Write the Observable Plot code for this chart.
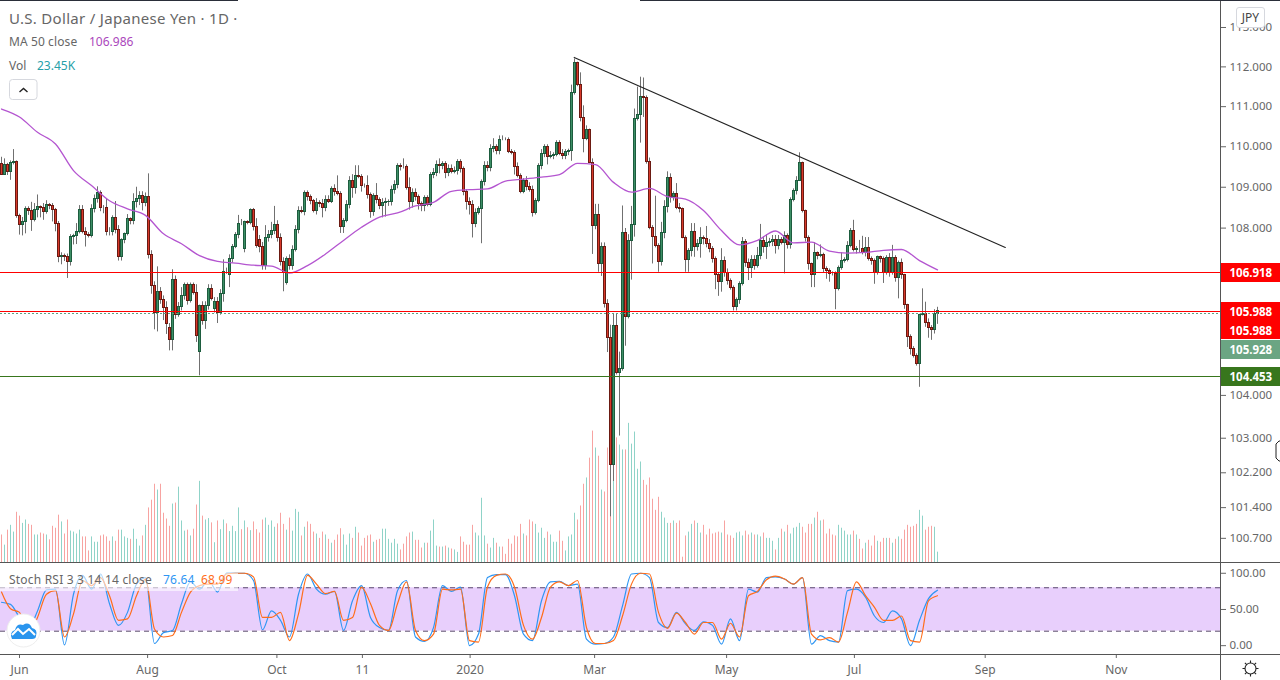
<!DOCTYPE html>
<html><head><meta charset="utf-8">
<script src="https://cdn.jsdelivr.net/npm/d3@7"></script>
<script src="https://cdn.jsdelivr.net/npm/@observablehq/plot@0.6"></script>
<style>
html,body{margin:0;padding:0;background:#fff;overflow:hidden}
#stage{position:relative;width:1280px;height:680px;overflow:hidden;font-family:"Noto Sans",sans-serif;color:#666}
.layer{position:absolute;left:0}
.layer svg{display:block}
.t{position:absolute;white-space:nowrap;line-height:16px;font-size:12px}
.line{position:absolute;background:#555}
</style></head><body>
<div id="stage"></div>
<script>
// ---------- data ----------
const firstOpen = 109.58;
const closes = [
109.31,109.54,109.37,109.60,109.63,108.29,108.08,108.16,108.47,108.41,
108.20,108.45,108.51,108.50,108.39,108.57,108.55,108.45,108.11,107.31,
107.32,107.29,107.18,107.79,107.80,107.91,108.45,107.91,107.84,107.81,
108.47,108.71,108.86,108.50,108.50,107.91,107.91,108.25,107.96,107.30,
107.72,107.86,108.23,108.18,108.64,108.70,108.79,108.62,108.76,107.35,
106.60,105.95,106.46,106.26,106.07,105.69,105.30,106.74,105.90,106.10,
106.36,106.62,106.24,106.62,106.43,105.40,106.12,105.76,106.12,106.53,
106.29,106.22,105.95,106.41,106.93,106.93,107.25,107.55,107.84,108.11,
108.11,108.15,108.13,108.45,108.03,107.56,107.55,107.08,107.76,107.84,
107.94,108.08,107.76,107.18,106.91,107.25,107.08,107.47,107.96,108.42,
108.40,108.86,108.76,108.67,108.42,108.62,108.60,108.50,108.69,108.65,
108.96,108.88,108.84,108.02,108.18,108.57,109.16,108.98,109.28,109.26,
109.03,109.03,108.81,108.39,108.79,108.69,108.55,108.62,108.63,108.64,
108.93,109.06,109.53,109.50,109.50,108.98,108.64,108.86,108.76,108.59,
108.55,108.74,108.57,109.31,109.36,109.55,109.53,109.58,109.36,109.45,
109.38,109.40,109.63,109.45,108.89,108.64,108.57,108.11,108.37,108.47,
109.13,109.53,109.48,109.95,110.00,109.90,110.17,110.17,110.17,109.88,
109.85,109.50,109.28,108.89,109.16,109.01,108.93,108.37,108.67,109.53,
109.83,110.00,109.75,109.78,109.80,110.10,109.83,109.78,109.88,109.89,
111.34,112.10,111.55,110.72,110.20,110.42,109.60,108.06,108.33,107.13,
107.54,106.17,105.36,102.39,105.64,104.53,104.62,107.89,105.86,107.69,
108.08,110.69,110.79,111.24,111.22,109.62,108.01,107.78,107.57,107.18,
107.89,108.52,109.23,108.76,108.84,108.50,108.47,107.76,107.23,107.45,
107.91,107.54,107.62,107.76,107.74,107.62,107.50,107.25,106.86,106.70,
107.20,106.91,106.72,106.55,106.10,106.26,106.65,107.67,107.15,107.03,
107.23,107.08,107.33,107.69,107.54,107.64,107.65,107.72,107.57,107.72,
107.64,107.81,107.59,108.69,108.91,109.16,109.60,108.42,107.76,107.13,
106.86,107.40,107.33,107.34,107.01,106.96,106.89,106.89,106.53,107.03,
107.20,107.23,107.57,107.94,107.47,107.50,107.50,107.40,107.52,107.25,
107.20,106.91,107.30,107.25,106.91,107.28,106.91,107.28,106.79,107.15,
106.86,106.14,105.38,105.10,104.93,104.74,105.90,105.93,105.71,105.60,
105.55,105.93,105.988];
// bars whose open differs from the previous close: [bar, open]
const openGaps = [[56,105.60],[66,105.02],[71,106.05],[76,106.86],[81,107.50],[86,107.72],[95,106.67]];
// wick lengths in pips (0.01 yen)
const wickUp = [
16,16,5,5,30,2,5,10,5,5, 22,15,30,3,10,10,3,5,3,5, 8,5,8,5,5,20,10,10,10,5, 10,10,15,5,5,20,10,5,40,10,
2,2,10,2,20,30,10,10,10,57, 10,10,60,10,10,15,10,25,10,10, 20,5,5,5,5,20,2,10,10,10, 10,10,10,10,30,10,10,5,5,20,
10,2,3,2,3,20,10,10,30,10, 20,45,10,10,10,5,10,10,10,10, 10,5,5,5,3,10,5,10,10,10, 5,10,40,5,5,10,10,15,25,25,
5,5,25,5,5,30,5,10,10,5, 10,10,5,5,20,5,25,10,10,5, 5,5,5,5,10,10,15,5,5,10, 10,10,5,5,5,5,10,10,10,5,
5,10,10,10,20,5,10,10,5,5, 5,5,10,5,5,10,10,10,5,5, 10,5,5,10,5,5,5,10,5,5, 20,10,2,30,30,10,2,10,25,25,
10,10,10,30,30,30,40,65,10,15, 45,25,70,50,48,5,10,5,100,5, 25,15,15,10,5,25,10,2,5,5, 20,20,10,25,5,30,10,5,5,5,
30,10,10,5,5,5,5,10,5,10, 10,10,20,40,10,20,10,10,10,10, 5,10,5,5,5,10,25,2,2,5, 2,25,2,25,5,5,5,5,5,5,
20,5,10,5,25,5,20,30,25,25, 5,5,2,2,5,5,10,30,5,5, 10,2,2,5,5,5,2,60,28,10, 5,10,10];
const wickDown = [
2,2,8,20,5,5,25,27,30,10, 28,5,20,25,20,5,10,30,20,15, 20,10,40,10,20,20,5,5,30,5, 5,10,10,10,15,10,10,10,10,10,
10,10,5,10,10,15,15,20,10,10, 20,40,45,10,30,25,25,25,10,5, 10,10,10,5,5,15,56,10,20,10, 5,10,25,5,20,5,30,10,5,10,
5,10,5,5,10,5,15,10,10,10, 10,10,10,10,45,5,10,10,5,10, 5,10,10,10,5,10,10,25,10,5, 5,10,5,15,15,5,10,25,15,5,
15,5,10,15,10,10,10,30,35,10, 10,10,10,10,5,5,20,15,10,15, 15,15,5,5,10,10,20,10,15,10, 5,5,10,10,10,20,25,35,10,5,
85,10,10,10,10,10,10,2,2,5, 5,20,5,5,5,10,5,10,5,5, 10,10,20,5,10,5,5,10,10,10, 25,5,5,10,35,5,2,70,10,20,
30,10,35,120,39,5,148,5,70,5, 95,30,5,70,49,5,5,65,5,25, 10,15,15,15,10,5,10,2,30,30, 15,25,10,35,15,10,10,10,35,35,
25,10,10,5,10,10,10,5,10,30, 25,10,5,10,15,30,10,10,20,10, 5,75,10,10,5,10,2,5,10,15, 30,30,10,5,10,20,20,5,50,5,
5,5,5,5,5,10,10,5,10,5, 10,27,5,10,25,5,10,5,10,50, 10,10,25,15,5,5,55,2,10,25, 25,10,25];
// volume, thousands
const volumes = [
59,38,69,79,65,106,98,83,90,81, 79,59,59,63,61,59,49,77,73,100, 86,61,90,67,65,61,69,55,55,26, 55,44,44,57,59,55,46,55,46,69,
69,55,52,50,71,50,36,57,79,115, 131,164,152,164,104,92,77,123,125,158, 88,67,69,57,71,121,170,98,90,93, 84,43,88,70,90,82,66,77,66,115,
70,88,74,68,86,70,63,90,94,79, 88,75,82,104,81,69,94,67,112,106, 57,75,86,81,65,61,52,65,59,50, 42,48,59,72,59,38,61,52,75,63,
36,52,57,59,44,48,50,71,71,50, 42,50,40,28,40,55,63,65,48,48, 32,42,42,67,90,36,34,34,36,32, 30,28,23,55,44,38,38,79,63,57,
135,57,40,32,52,42,34,34,19,50, 40,57,55,81,61,57,90,86,81,63, 73,52,65,59,44,44,67,46,26,55, 59,104,90,119,164,177,218,274,239,222,
152,148,239,302,253,260,245,235,235,290, 247,272,195,210,172,162,177,133,110,137, 106,94,83,83,88,83,88,13,57,65, 81,88,83,63,79,59,71,61,63,65,
63,88,59,57,52,63,65,57,67,59, 63,59,59,55,63,52,52,46,28,52, 71,65,79,61,73,75,83,75,63,81, 81,94,106,88,90,61,71,59,57,79,
73,67,59,59,67,59,50,30,42,48, 36,57,46,44,52,52,52,42,50,55, 50,69,79,75,77,81,110,98,69,75, 77,75,23.45];
// 50-day moving average, read every 6th bar
const maStep = 6;
const ma50 = [110.94,110.74,110.36,110.07,109.41,109.04,108.67,108.47,108.31,107.86,107.62,107.33,107.19,107.15,107.10,107.08,106.91,107.09,
107.37,107.70,108.02,108.27,108.37,108.54,108.63,108.90,108.94,108.96,109.15,109.20,109.25,109.31,109.59,109.56,109.12,108.88,
108.97,108.77,108.71,108.43,107.94,107.59,107.70,107.93,107.64,107.66,107.44,107.39,107.41,107.46,107.48,107.21,106.986];
// Stochastic RSI, read every 3rd bar
const stochStep = 3;
const stochK = [60,57,39,23,48,77,78,1,71,97,78,99,58,28,46,85,94,3,18,21,58,88,78,90,74,100,100,100,90,22,48,35,12,71,99,78,71,75,21,62,83,39,25,21,76,90,12,6,25,83,75,81,0,16,
94,98,98,69,16,7,62,88,89,83,85,9,2,3,12,55,99,100,94,32,25,46,30,21,33,28,2,37,7,78,74,94,95,92,85,94,2,14,7,5,76,78,67,41,32,48,37,0,35,65,76.64];
const stochD = [74,51,46,16,39,71,76,12,44,90,83,94,69,35,37,69,92,23,12,14,46,74,83,85,85,99,100,100,95,39,39,46,7,44,97,85,72,75,35,39,81,58,28,21,58,88,21,7,16,78,77,78,7,5,
81,97,99,81,28,9,39,81,88,83,90,25,3,3,7,41,85,100,99,46,24,45,32,16,32,32,9,31,12,69,75,91,96,92,85,94,16,8,11,5,46,88,69,53,35,35,41,7,5,62,68.99];
const priceTicks = [113,112,111,110,109,108,104,103,102.2,101.4,100.7];
const stochTicks = [0,50,100];
const timeTickBars = [6,48.7,91.8,120.3,156.2,197.7,241.7,284.3,327.9,371.6];
const timeTickLabels = ["Jun","Aug","Oct","11","2020","Mar","May","Jul","Sep","Nov"];
const trendBars = [190.9,334.6];
const trendPrices = [112.24,107.53];
const resistance = 106.918, midLevel = 105.988, support = 104.453, lastPrice = 105.928;

// ---------- derived tables ----------
const gaps = new Map(openGaps);
const candles = closes.map((c,i)=>{
  const o = i===0 ? firstOpen : (gaps.has(i) ? gaps.get(i) : closes[i-1]);
  return {i,o,c,h:Math.max(o,c)+wickUp[i]/100,l:Math.min(o,c)-wickDown[i]/100,v:volumes[i],up:c>o};
});
const maRows = ma50.map((v,k)=>({i:k*maStep,v}));
const kRows = stochK.map((v,k)=>({i:k*stochStep,v}));
const dRows = stochD.map((v,k)=>({i:k*stochStep,v}));

// ---------- shared horizontal scale: one bar every 3px ----------
const W=1280, axisRight=60;
const xOpt={type:"linear",domain:[-1/3,(1220-1)/3],range:[0,1220],axis:null};
const base={width:W,marginLeft:0,marginRight:axisRight,marginTop:0,marginBottom:0,style:{background:"transparent"}};
const stage=document.getElementById("stage");
function add(el,top){const d=document.createElement("div");d.className="layer";d.style.top=top+"px";d.appendChild(el);stage.appendChild(d);return d;}

// volume layer (behind price)
add(Plot.plot({...base,height:563,x:xOpt,y:{domain:[0,1165],range:[563,0],axis:null},
  marks:[Plot.ruleX(candles,{x:"i",y1:0,y2:"v",stroke:d=>d.up?"#8fd3c8":"#f7a3a1",strokeWidth:1})]}),0);

// price layer
function tag(price,text,fill,dy){
  return [
    Plot.ruleY([price],{x1:xOpt.domain[1],x2:xOpt.domain[1]+20,stroke:fill,strokeWidth:19,dy,shapeRendering:"crispEdges"}),
    Plot.text([price],{y:d=>d,text:()=>text,frameAnchor:"right",textAnchor:"start",dx:9,dy:dy+1,fill:"#fff",fontWeight:"bold",fontSize:11.5})
  ];
}
add(Plot.plot({...base,height:563,x:xOpt,
  y:{type:"log",domain:[100.13,113.69],range:[563,0],axis:null},
  marks:[
    Plot.axisY({anchor:"right",ticks:priceTicks,tickFormat:d3.format(".3f"),tickSize:5,tickPadding:4,fontSize:11.5,color:"#666",label:null}),
    Plot.ruleX(candles,{x:"i",y1:"l",y2:"h",stroke:"#707070",strokeWidth:1}),
    Plot.rect(candles,{x1:d=>d.i-1/6,x2:d=>d.i+1/2,y1:"o",y2:"c",
      fill:d=>d.up?"#3d8f66":"#d8392a",stroke:d=>d.up?"#1d5c3e":"#6b1a12",strokeWidth:1,inset:0,shapeRendering:"crispEdges"}),
    Plot.line(maRows,{x:"i",y:"v",stroke:"#b455d0",strokeWidth:1.3,curve:"monotone-x"}),
    Plot.line(trendBars.map((b,k)=>({b,p:trendPrices[k]})),{x:"b",y:"p",stroke:"#222",strokeWidth:1.1}),
    Plot.ruleY([lastPrice],{stroke:"#5f9e80",strokeWidth:1,strokeDasharray:"2,2",shapeRendering:"crispEdges"}),
    Plot.ruleY([resistance,midLevel],{stroke:"#ff0000",strokeWidth:1,shapeRendering:"crispEdges"}),
    Plot.ruleY([support],{stroke:"#38761d",strokeWidth:1,shapeRendering:"crispEdges"}),
    ...tag(resistance,"106.918","#ff0000",0),
    ...tag(midLevel,"105.988","#ff0000",0),
    ...tag(midLevel,"105.988","#ff0000",18.5),
    ...tag(lastPrice,"105.928","#6ba583",35.5),
    ...tag(support,"104.453","#38761d",0)
  ]}),0);

// stochastic layer with the time axis
add(Plot.plot({...base,height:117,marginBottom:26,x:xOpt,
  y:{domain:[-12.2,113.5],range:[91,0],axis:null},
  marks:[
    Plot.rect([0],{x1:xOpt.domain[0],x2:xOpt.domain[1],y1:20,y2:80,fill:"#e8cffc"}),
    Plot.ruleY([20,80],{stroke:"#5a4a6c",strokeWidth:1,strokeDasharray:"5,4"}),
    Plot.line(kRows,{x:"i",y:"v",stroke:"#2f96f3",strokeWidth:1.2,curve:"monotone-x"}),
    Plot.line(dRows,{x:"i",y:"v",stroke:"#ff6d1a",strokeWidth:1.2,curve:"monotone-x"}),
    Plot.axisY({anchor:"right",ticks:stochTicks,tickFormat:d3.format(".2f"),tickSize:5,tickPadding:4,fontSize:11.5,color:"#666",label:null}),
    Plot.axisX({anchor:"bottom",ticks:timeTickBars,tickFormat:d=>timeTickLabels[timeTickBars.indexOf(d)],tickSize:4,tickPadding:7,fontSize:12,color:"#666",label:null})
  ]}),563);

// ---------- frame lines ----------
function line(l,t,w,h,c){const e=document.createElement("div");e.className="line";e.style.cssText=`left:${l}px;top:${t}px;width:${w}px;height:${h}px;background:${c||"#555"}`;stage.appendChild(e);}
line(1220,0,1,680);line(0,562,1280,1);line(0,654,1280,1);
line(0,0,238,1,"#2a2e39");line(640,0,640,1,"#2a2e39");

// ---------- legends ----------
function txt(x,y,s,col,size,extra){const e=document.createElement("div");e.className="t";e.textContent=s;e.style.cssText=`left:${x}px;top:${y-7}px;color:${col||"#666"};font-size:${size||12}px;${extra||""}`;stage.appendChild(e);}
const wash=document.createElement("div");wash.style.cssText="position:absolute;left:0;top:573px;width:238px;height:18px;background:rgba(255,255,255,.6)";stage.appendChild(wash);
txt(9,17,"U.S. Dollar / Japanese Yen · 1D ·","#666",15,"letter-spacing:.3px");
txt(9,41,"MA 50 close","#666",12,"letter-spacing:.1px");txt(89,41,"106.986","#ab47bc",12);
txt(9,65,"Vol","#666",12);txt(37,65,"23.45K","#26a0a8",12);
txt(9,579,"Stoch RSI 3 3 14 14 close","#666",12,"letter-spacing:.2px");txt(163,579,"76.64","#2f96f3",12,"letter-spacing:.2px");txt(201,579,"68.99","#ff6d1a",12,"letter-spacing:.2px");

// ---------- chrome icons ----------
const deco=document.createElement("div");
deco.innerHTML=`
<div style="position:absolute;left:1236px;top:7px;width:27px;height:19px;border:1px solid #d6d8de;border-radius:3px;background:#fff;font-size:12px;color:#444;text-align:center;line-height:19px">JPY</div>
<svg style="position:absolute;left:9px;top:79px" width="29" height="22"><rect x=".5" y=".5" width="27.5" height="20" rx="3" fill="#fff" stroke="#d6d8de"/><path d="M10.5 13 L14.5 9.5 L18.5 13" fill="none" stroke="#222" stroke-width="1.4"/></svg>
<svg style="position:absolute;left:5px;top:612px" width="37" height="37"><circle cx="18.5" cy="18.5" r="16.5" fill="#fff" stroke="#eee"/><path d="M7 27 Q4 20 10 18 Q12 11 18 13 Q24 9 27 16 Q33 17 31 24 Q31 27 27 27 Z" fill="#2a95ee"/><path d="M7 23 L13 17 L18 22 L24 17 L30 23" fill="none" stroke="#fff" stroke-width="2"/></svg>
<svg style="position:absolute;left:1241px;top:659px" width="19" height="19"><circle cx="9.5" cy="9.5" r="5.5" fill="none" stroke="#222" stroke-width="1.1"/><path d="M9.5 1.5v2.5M9.5 15v2.5M1.5 9.5h2.5M15 9.5h2.5M3.9 3.9l1.8 1.8M13.3 13.3l1.8 1.8M3.9 15.1l1.8-1.8M13.3 5.7l1.8-1.8" stroke="#222" stroke-width="1.1"/></svg>
<svg style="position:absolute;left:1275px;top:440px" width="5" height="22"><path d="M4 1 L1 4 V18 L4 21 H6 V1Z" fill="#fff" stroke="#222"/></svg>`;
while(deco.firstElementChild) stage.appendChild(deco.firstElementChild);
</script>
</body></html>
